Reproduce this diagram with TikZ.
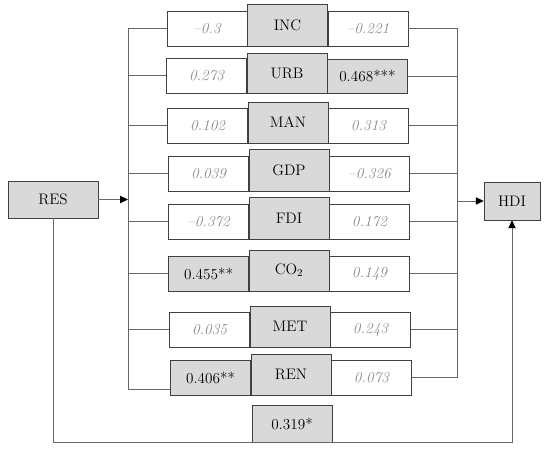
\documentclass[tikz,border=0pt]{standalone}
\usepackage{xcolor}
\usetikzlibrary{arrows.meta,positioning,calc}
\definecolor{boxgray}{HTML}{D9D9D9}
\definecolor{linegray}{HTML}{666666}
\definecolor{valgray}{HTML}{8A8A8A}
\tikzset{
  varbox/.style={
    draw=black!75,
    fill=boxgray,
    minimum width=2.4cm,
    minimum height=1.24cm,
    inner sep=0pt,
    font=\fontsize{13}{15}\selectfont,
  },
  valbox/.style={
    draw=black!75,
    fill=white,
    minimum width=2.4cm,
    minimum height=1.05cm,
    inner sep=0pt,
    text=valgray,
    font=\fontsize{13}{15}\selectfont\itshape,
  },
  sigbox/.style={
    valbox,
    fill=boxgray,
    text=black,
    font=\fontsize{13}{15}\selectfont,
  },
  conn/.style={
    draw=linegray,
    line width=0.8pt,
  },
  arr/.style={
    conn,
    -{Triangle[length=2.4mm,width=2.2mm,color=black]},
  },
}

\begin{document}
\begin{tikzpicture}[x=0.03cm, y=-0.03cm]
  \useasboundingbox (0,0) rectangle (550,451);

  % Outer variables
  \node[varbox, minimum width=2.7cm, minimum height=1.11cm] (res) at (53,199.5) {RES};
  \node[varbox, minimum width=1.68cm, minimum height=1.14cm] (hdi) at (512,201) {HDI};

  % Mediators, middle column
  \node[varbox, minimum height=1.26cm] (inc) at (287.5,25) {INC};
  \node[varbox, minimum height=1.2cm]  (urb) at (287,73) {URB};
  \node[varbox] (man) at (288,122.5) {MAN};
  \node[varbox, minimum height=1.26cm] (gdp) at (289,170) {GDP};
  \node[varbox, minimum height=1.26cm] (fdi) at (289,218) {FDI};
  \node[varbox] (co2) at (289,270.5) {CO\textsubscript{2}};
  \node[varbox] (met) at (290,326.5) {MET};
  \node[varbox] (ren) at (291,374.5) {REN};

  % Coefficients RES -> mediator
  \node[valbox, anchor=south east] (incl) at (inc.south west) {--0.3};
  \node[valbox, anchor=south east] (urbl) at (urb.south west) {0.273};
  \node[valbox, anchor=south east] (manl) at (man.south west) {0.102};
  \node[valbox, anchor=south east] (gdpl) at (gdp.south west) {0.039};
  \node[valbox, anchor=south east] (fdil) at (fdi.south west) {--0.372};
  \node[sigbox, anchor=south east] (co2l) at (co2.south west) {0.455**};
  \node[valbox, anchor=south east] (metl) at (met.south west) {0.035};
  \node[sigbox, anchor=south east] (renl) at (ren.south west) {0.406**};

  % Coefficients mediator -> HDI
  \node[valbox, anchor=south west] (incr) at (inc.south east) {--0.221};
  \node[sigbox, anchor=south west, minimum height=1.02cm] (urbr) at (urb.south east) {0.468***};
  \node[valbox, anchor=south west] (manr) at (man.south east) {0.313};
  \node[valbox, anchor=south west] (gdpr) at (gdp.south east) {--0.326};
  \node[valbox, anchor=south west] (fdir) at (fdi.south east) {0.172};
  \node[valbox, anchor=south west] (co2r) at (co2.south east) {0.149};
  \node[valbox, anchor=south west] (metr) at (met.south east) {0.243};
  \node[valbox, anchor=south west] (renr) at (ren.south east) {0.073};

  % Buses
  \coordinate (lbus) at (128,0);
  \coordinate (rbus) at (457,0);
  \coordinate (renlow) at ($(renl.south west)+(0,-6)$);

  \draw[conn] (lbus |- incl.west) -- (lbus |- renlow);
  \foreach \n in {incl,urbl,manl,gdpl,fdil,co2l,metl}
    \draw[conn] (lbus |- \n.west) -- (\n.west);
  \draw[conn] (lbus |- renlow) -- (renlow);
  \draw[arr] (res.east) -- (lbus |- res.east);

  \draw[conn] (rbus |- incr.east) -- (rbus |- renr.east);
  \foreach \n in {incr,urbr,manr,gdpr,fdir,co2r,metr,renr}
    \draw[conn] (\n.east) -- (rbus |- \n.east);
  \draw[arr] (rbus |- hdi.west) -- (hdi.west);

  % Direct effect
  \node[sigbox, minimum height=1.11cm] (direct) at (292,423.5) {0.319*};
  \draw[arr] (res.south) |- (direct.south) -| (hdi.south);
\end{tikzpicture}
\end{document}
